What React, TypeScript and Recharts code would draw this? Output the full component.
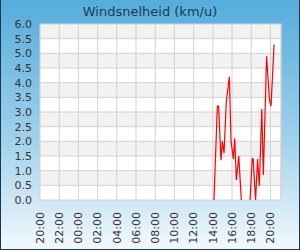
import { LineChart, Line, XAxis, YAxis, CartesianGrid, ReferenceLine } from 'recharts'

// hours since 20:00 of the previous day
const hours = [
  18.12, 18.47, 18.6, 18.85, 18.99, 19.17, 19.4, 19.72, 19.9, 20.14, 20.28, 20.45, 20.7, 20.97,
  21.4,
  21.88, 22.1, 22.2, 22.45, 22.66, 22.84, 23.1, 23.26, 23.6, 23.9, 24.06, 24.38,
]
// km/u, null = no line drawn in the picture
const speed = [
  0, 3.2, 3.2, 1.36, 2.0, 1.6, 3.35, 4.2, 2.0, 1.4, 2.1, 0.68, 1.5, 0,
  null,
  0, 1.4, 1.4, 0, 1.4, 0.48, 3.1, 0.85, 4.9, 3.4, 3.2, 5.3,
]

const hourTicks = [0, 2, 4, 6, 8, 10, 12, 14, 16, 18, 20, 22, 24]
const hourLabels = [
  '20:00', '22:00', '00:00', '02:00', '04:00', '06:00', '08:00',
  '10:00', '12:00', '14:00', '16:00', '18:00', '20:00',
]
const speedTicks = [0, 0.5, 1, 1.5, 2, 2.5, 3, 3.5, 4, 4.5, 5, 5.5, 6]
const xMax = 25.1

const data = hours.map((t, i) => ({ t, v: speed[i] }))

const font = 'DejaVu Sans, Verdana, sans-serif'

function HourTick({ x, y, index }: any) {
  return (
    <text
      x={x}
      y={y + 12}
      transform={`rotate(-90 ${x} ${y + 12})`}
      textAnchor="end"
      dy="0.35em"
      fontSize={11}
      fontFamily={font}
      fill="#333"
    >
      {hourLabels[index]}
    </text>
  )
}

export default function App() {
  return (
    <div
      style={{
        position: 'absolute',
        left: 0,
        top: 0,
        width: 300,
        height: 250,
        background: 'linear-gradient(to bottom, #55acdb 0%, #a0d0eb 55%, #f3f9fd 100%)',
      }}
    >
      <div
        style={{
          position: 'absolute',
          top: 0,
          left: 0,
          width: 300,
          height: 24,
          lineHeight: '24px',
          textAlign: 'center',
          fontFamily: font,
          fontSize: 13,
          color: '#1b3c5e',
        }}
      >
        Windsnelheid (km/u)
      </div>
      <LineChart
        width={300}
        height={250}
        data={data}
        margin={{ top: 24, right: 19, left: 0, bottom: 0 }}
      >
        <CartesianGrid
          stroke="#d2d2d2"
          horizontalFill={['#f2f2f2', '#ffffff']}
          fillOpacity={1}
        />
        <XAxis
          dataKey="t"
          type="number"
          domain={[0, xMax]}
          allowDataOverflow
          ticks={hourTicks}
          interval={0}
          tick={<HourTick />}
          tickLine={false}
          axisLine={false}
          tickSize={0}
          tickMargin={0}
          height={50}
        />
        <YAxis
          domain={[0, 6]}
          ticks={speedTicks}
          interval={0}
          tickFormatter={(v: number) => v.toFixed(1)}
          tick={{ fontSize: 11, fill: '#333', fontFamily: font }}
          tickLine={false}
          axisLine={false}
          width={40}
        />
        <ReferenceLine x={xMax} stroke="#d2d2d2" />
        <Line
          type="linear"
          dataKey="v"
          stroke="#ff0000"
          strokeWidth={1.2}
          dot={false}
          isAnimationActive={false}
        />
      </LineChart>
      <div
        style={{
          position: 'absolute',
          left: 0,
          top: 0,
          width: 300,
          height: 250,
          boxSizing: 'border-box',
          borderLeft: '1px solid #12365e',
          borderRight: '1px solid #12365e',
          borderBottom: '1px solid #12365e',
          pointerEvents: 'none',
        }}
      />
    </div>
  )
}
